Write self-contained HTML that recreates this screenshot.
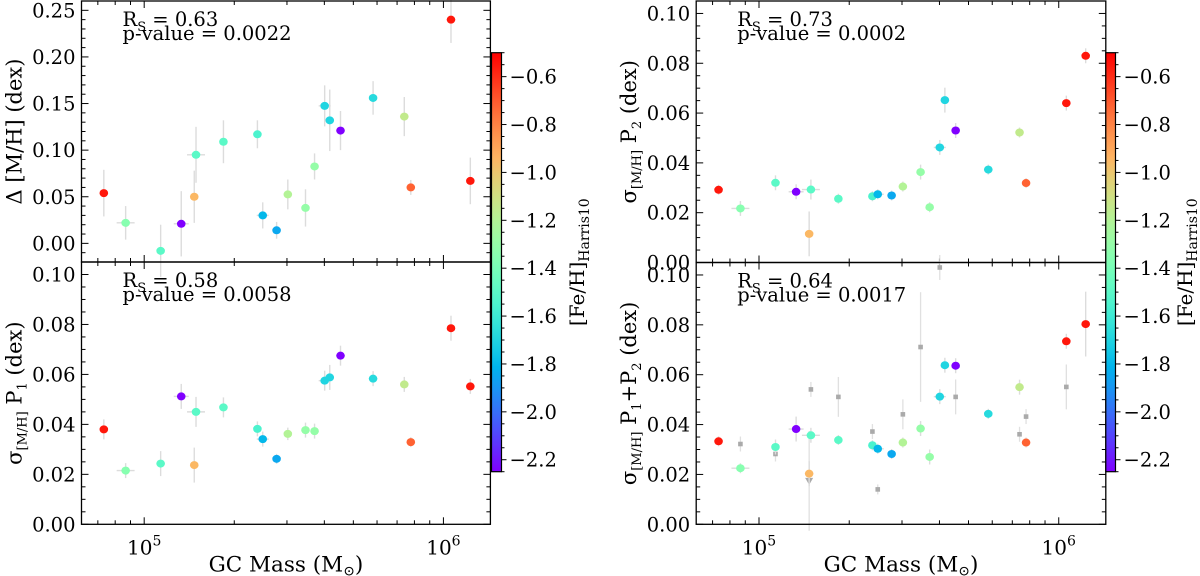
<!DOCTYPE html>
<html><head><meta charset="utf-8"><style>
html,body{margin:0;padding:0;background:#fff}
svg{display:block;font-family:"DejaVu Serif","Liberation Serif",serif}
</style></head><body>
<svg id="fig" width="1200" height="576" viewBox="0 0 1200 576" xmlns="http://www.w3.org/2000/svg"></svg>
<script>
// ---- data ----
const gcMass = [73.3e3,86.7e3,113.5e3,133e3,147e3,149e3,184e3,239e3,249e3,277e3,302e3,346e3,371e3,401e3,417e3,453e3,582e3,740e3,778e3,1.06e6,1.23e6];
const feH = [-0.55,-1.35,-1.5,-2.25,-0.95,-1.5,-1.5,-1.55,-1.8,-1.85,-1.2,-1.3,-1.3,-1.7,-1.7,-2.25,-1.68,-1.15,-0.72,-0.55,-0.55];
const massErrDex = [0,0.03,0,0.025,0,0.03,0,0,0.02,0,0,0,0,0.02,0,0,0,0,0,0,0];
const deltaMH = [0.0539,0.022,-0.008,0.021,0.050,0.095,0.109,0.117,0.030,0.014,0.0525,0.038,0.0825,0.1475,0.132,0.121,0.156,0.136,0.060,0.240,0.067];
const deltaErr = [0.025,0.018,0.028,0.035,0.028,0.03,0.023,0.015,0.014,0.009,0.016,0.02,0.014,0.022,0.033,0.021,0.018,0.021,0.008,0.025,0.025];
const sigP1 = [0.038,0.0215,0.0243,0.0512,0.0237,0.045,0.0468,0.0382,0.0341,0.0262,0.0362,0.0377,0.0373,0.0575,0.0588,0.0675,0.0583,0.056,0.0329,0.0785,0.0552];
const sigP1Err = [0.004,0.003,0.005,0.005,0.007,0.006,0.004,0.003,0.003,0.002,0.0025,0.003,0.003,0.004,0.005,0.004,0.003,0.003,0.002,0.005,0.003];
const sigP2 = [0.0292,0.0217,0.032,0.0284,0.0115,0.0293,0.0256,0.0266,0.0274,0.0269,0.0305,0.0363,0.0222,0.0462,0.0652,0.053,0.0373,0.0522,0.0319,0.064,0.083];
const sigP2Err = [0.002,0.003,0.003,0.003,0.009,0.004,0.002,0.002,0.002,0.002,0.002,0.003,0.002,0.003,0.005,0.003,0.002,0.002,0.002,0.003,0.003];
const sigP12 = [0.0333,0.0225,0.031,0.0382,0.0203,0.0357,0.0338,0.0317,0.0303,0.0282,0.0328,0.0384,0.027,0.0512,0.0638,0.0636,0.0443,0.055,0.0328,0.0734,0.0803];
const sigP12Err = [0.002,0.002,0.003,0.005,0.005,0.003,0.002,0.002,0.002,0.002,0.002,0.003,0.003,0.003,0.003,0.003,0.002,0.003,0.002,0.003,0.013];
const grayIdx = [1,2,4,5,6,7,8,10,11,13,15,17,18,19];
const grayVal = [0.0322,0.0282,0.0174,0.0541,0.0511,0.0372,0.014,0.0441,0.0711,0.103,0.0511,0.0361,0.0432,0.0551];
const grayErr = [0.003,0.003,0.02,0.003,0.008,0.003,0.002,0.006,0.022,0.005,0.007,0.003,0.003,0.009];
const grayUpper = [false,false,true,false,false,false,false,false,false,false,false,false,false,false];
const cbTicks = [-0.6,-0.8,-1.0,-1.2,-1.4,-1.6,-1.8,-2.0,-2.2];

const NS="http://www.w3.org/2000/svg";
const svg=document.getElementById('fig');
function mk(tag,attrs,parent){const e=document.createElementNS(NS,tag);for(const k in attrs)e.setAttribute(k,attrs[k]);(parent||svg).appendChild(e);return e;}
function rainbow(x){x=Math.max(0,Math.min(1,x));const r=Math.min(1,Math.abs(2*x-0.5)),g=Math.sin(Math.PI*x),b=Math.cos(Math.PI*x/2);return `rgb(${Math.round(r*255)},${Math.round(g*255)},${Math.round(b*255)})`;}
const cMin=-2.25,cMax=-0.5;
function colorOf(v){return rainbow((v-cMin)/(cMax-cMin));}
const logMin=4.7905,logMax=6.157;

function panel(name,box,ymin,ymax,major,minor,fmt,ys,yerr,ylabel,stat,showX,gray){
  const g=mk('g',{});
  const sx=m=>box.x0+(Math.log10(m)-logMin)/(logMax-logMin)*(box.x1-box.x0);
  const sy=v=>box.y1-(v-ymin)/(ymax-ymin)*(box.y1-box.y0);
  for(let d=4;d<=6;d++)for(let k=1;k<10;k++){const m=k*Math.pow(10,d);const lm=Math.log10(m);if(lm<logMin||lm>logMax)continue;const x=sx(m);const L=k===1?7:4;
    mk('line',{x1:x,x2:x,y1:box.y1,y2:box.y1-L,stroke:'#000','stroke-width':1},g);mk('line',{x1:x,x2:x,y1:box.y0,y2:box.y0+L,stroke:'#000','stroke-width':1},g);
    if(k===1&&showX){const t=mk('text',{x:x,y:box.y1+30,'font-size':20,'text-anchor':'middle'},g);t.textContent='10';const s=mk('tspan',{dy:-9,'font-size':14},t);s.textContent=String(d);}}
  const nMin=Math.round((ymax-ymin)/minor);
  for(let i=0;i<=nMin+1;i++){const v=Math.ceil(ymin/minor-1e-9)*minor+i*minor;if(v>ymax+1e-9)break;const y=sy(v);const isMaj=Math.abs(v/major-Math.round(v/major))<1e-6;const L=isMaj?7:4;
    mk('line',{x1:box.x0,x2:box.x0+L,y1:y,y2:y,stroke:'#000','stroke-width':1},g);mk('line',{x1:box.x1,x2:box.x1-L,y1:y,y2:y,stroke:'#000','stroke-width':1},g);
    if(isMaj){const t=mk('text',{x:box.x0-6,y:y+7,'font-size':19.5,'text-anchor':'end'},g);t.textContent=v.toFixed(fmt);}}
  if(gray){gray.idx.forEach((gi,j)=>{const x=sx(gcMass[gi]),y=sy(gray.val[j]);mk('line',{x1:x,x2:x,y1:sy(gray.val[j]-gray.err[j]),y2:sy(gray.val[j]+gray.err[j]),stroke:'#e0e0e0','stroke-width':1.3},g);
    let p;
    if(gray.upper[j]){p=mk('polygon',{points:`${x-4},${y-3} ${x+4},${y-3} ${x},${y+4}`,fill:'#aaa'},g);}
    else{p=mk('rect',{x:x-2.3,y:y-2.3,width:4.6,height:4.6,fill:'#aaa'},g);}
    });}
  ys.forEach((v,i)=>{const x=sx(gcMass[i]);mk('line',{x1:x,x2:x,y1:sy(v-yerr[i]),y2:sy(v+yerr[i]),stroke:'#dcdcdc','stroke-width':1.4},g);
    if(massErrDex[i]>0){const lm=Math.log10(gcMass[i]);mk('line',{x1:sx(Math.pow(10,lm-massErrDex[i])),x2:sx(Math.pow(10,lm+massErrDex[i])),y1:sy(v),y2:sy(v),stroke:'#dcdcdc','stroke-width':1.4},g);}});
  ys.forEach((v,i)=>{const c=mk('ellipse',{cx:sx(gcMass[i]),cy:sy(v),rx:4.3,ry:4,fill:colorOf(feH[i])},g);});
  mk('rect',{x:box.x0,y:box.y0,width:box.x1-box.x0,height:box.y1-box.y0,fill:'none',stroke:'#000','stroke-width':1.3},g);
  const t1=mk('text',{x:box.x0+41,y:box.y0+25,'font-size':19.5},g);
  t1.textContent='R';const s1=mk('tspan',{dy:5,'font-size':13},t1);s1.textContent='S';const s2=mk('tspan',{dy:-5},t1);s2.textContent=' = '+stat[0];
  const t2=mk('text',{x:box.x0+41,y:box.y0+39,'font-size':19.5},g);t2.textContent='p-value = '+stat[1];
  const cy=(box.y0+box.y1)/2;const lx=box.x0-60;
  const yl=mk('text',{x:0,y:0,'font-size':21,'text-anchor':'middle',transform:`translate(${lx},${cy}) rotate(-90)`},g);
  ylabel.forEach(p=>{const s=mk('tspan',p.sub?{dy:p.dy,'font-size':13}:{dy:p.dy||0},yl);s.textContent=p.t;});
  if(showX){const xl=mk('text',{x:(box.x0+box.x1)/2,y:box.y1+47,'font-size':21.5,'text-anchor':'middle'},g);
    xl.textContent='GC Mass (M';const s=mk('tspan',{dy:4,'font-size':14},xl);s.textContent='\u2299';const s3=mk('tspan',{dy:-4},xl);s3.textContent=')';}
}
function colorbar(x0,x1,y0,y1,lx){
  const g=mk('g',{});
  const id='cbg'+Math.round(x0);const defs=mk('defs',{},g);const lg=mk('linearGradient',{id:id,x1:0,y1:1,x2:0,y2:0},defs);
  for(let i=0;i<=20;i++)mk('stop',{offset:i/20,'stop-color':rainbow(i/20)},lg);
  mk('rect',{x:x0,y:y0,width:x1-x0,height:y1-y0,fill:`url(#${id})`,stroke:'#000','stroke-width':1.2},g);
  const sy=v=>y1-(v-cMin)/(cMax-cMin)*(y1-y0);
  for(let v=-2.25;v<=-0.5+1e-9;v+=0.05){const y=sy(v);const maj=Math.abs(v*5-Math.round(v*5))<1e-6;mk('line',{x1:x1,x2:x1+(maj?5:3),y1:y,y2:y,stroke:'#000','stroke-width':1},g);}
  cbTicks.forEach(v=>{const t=mk('text',{x:x1+8,y:sy(v)+7,'font-size':19.5},g);t.textContent='\u2212'+Math.abs(v).toFixed(1);});
  const l=mk('text',{x:0,y:0,'font-size':20,'text-anchor':'middle',transform:`translate(${lx},${(y0+y1)/2}) rotate(-90)`},g);
  l.textContent='[Fe/H]';const s=mk('tspan',{dy:5,'font-size':14},l);s.textContent='Harris10';
}
panel('panel-delta-mh',{x0:81.5,x1:490.4,y0:1,y1:262},-0.02,0.26,0.05,0.01,2,deltaMH,deltaErr,[{t:'\u0394 [M/H] (dex)'}],['0.63','0.0022'],false,null);
panel('panel-sigma-p1',{x0:81.5,x1:490.4,y0:262,y1:524.3},0,0.105,0.02,0.005,2,sigP1,sigP1Err,[{t:'\u03c3'},{t:'[M/H]',sub:true,dy:5},{t:' P',dy:-5},{t:'1',sub:true,dy:5},{t:' (dex)',dy:-5}],['0.58','0.0058'],true,null);
panel('panel-sigma-p2',{x0:696.2,x1:1105.8,y0:1,y1:262.5},0,0.105,0.02,0.005,2,sigP2,sigP2Err,[{t:'\u03c3'},{t:'[M/H]',sub:true,dy:5},{t:' P',dy:-5},{t:'2',sub:true,dy:5},{t:' (dex)',dy:-5}],['0.73','0.0002'],false,null);
panel('panel-sigma-p1p2',{x0:696.2,x1:1105.8,y0:262.5,y1:524.3},0,0.105,0.02,0.005,2,sigP12,sigP12Err,[{t:'\u03c3'},{t:'[M/H]',sub:true,dy:5},{t:' P',dy:-5},{t:'1',sub:true,dy:5},{t:'+P',dy:-5},{t:'2',sub:true,dy:5},{t:' (dex)',dy:-5}],['0.64','0.0017'],true,{idx:grayIdx,val:grayVal,err:grayErr,upper:grayUpper});
colorbar(491.5,501.5,52.7,471.7,584);
colorbar(1105.8,1115.5,52.7,471.7,1192);
</script>
</body></html>
